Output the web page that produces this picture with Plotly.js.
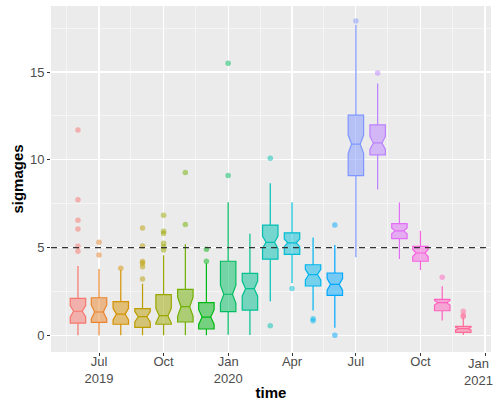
<!DOCTYPE html>
<html>
<head>
<meta charset="utf-8">
<script src="https://cdn.plot.ly/plotly-3.0.1.min.js"></script>
<style>html,body{margin:0;padding:0;background:#fff;}#chart{width:493px;height:406px;}</style>
</head>
<body>
<div id="chart"></div>
<script>
// ---- data ----
const months = ["2019-06-01","2019-07-01","2019-08-01","2019-09-01","2019-10-01","2019-11-01","2019-12-01",
                "2020-01-01","2020-02-01","2020-03-01","2020-04-01","2020-05-01","2020-06-01","2020-07-01",
                "2020-08-01","2020-09-01","2020-10-01","2020-11-01","2020-12-01"];
const q1Vals     = [0.70,0.74,0.63,0.45,0.63,0.76,0.36,1.35,1.44,4.34,4.61,2.81,2.27,9.10,10.28,5.51,4.22,1.40,0.17];
const medianVals = [1.37,1.33,1.21,1.06,1.12,1.63,1.04,2.34,2.66,5.30,5.27,3.46,2.90,10.89,10.96,5.95,4.69,1.86,0.38];
const q3Vals     = [2.11,2.14,1.92,1.52,2.32,2.62,1.86,4.22,3.53,6.28,5.84,4.02,3.55,12.54,11.99,6.36,5.07,2.05,0.51];
const lowerVals  = [0.00,0.00,0.00,0.00,0.00,0.00,0.00,0.03,0.02,1.94,2.96,1.42,0.43,4.45,8.30,4.35,3.72,0.85,0.02];
const upperVals  = [3.95,3.78,3.72,2.94,4.56,5.19,4.10,7.58,5.78,8.67,7.58,5.57,5.15,17.69,14.35,7.56,5.95,2.79,0.98];
const notchVals  = [0.32,0.40,0.33,0.30,0.42,0.55,0.42,0.52,0.43,0.35,0.22,0.30,0.33,0.52,0.37,0.17,0.20,0.13,0.07];
const outlierVals = [
  [11.7,7.73,6.55,6.06,5.08,4.79],
  [5.30,4.58],
  [3.82],
  [6.12,5.09,4.20,4.10,3.90,3.21],
  [6.84,5.93,5.80,5.24,5.05,4.86],
  [9.27,6.31],
  [4.90,4.22],
  [15.5,9.10],
  [],
  [10.09,0.55],
  [2.67],
  [0.95,0.83],
  [6.29,0.01],
  [17.9],
  [14.94],
  [],
  [],
  [3.31],
  [1.37,1.14,1.06]
];
const refLine = 5;
const xTickVals = ["2019-07-01","2019-10-01","2020-01-01","2020-04-01","2020-07-01","2020-10-01","2021-01-01"];
const xTickText = ["Jul<br>2019","Oct","Jan<br>2020","Apr","Jul","Oct","Jan<br>2021"];
const yTickVals = [0,5,10,15];
const lastTick = xTickVals.length - 1;   // drawn as an annotation so it stays inside the page

// ---- ggplot2 hue palette (HCL, l=65, c=100) ----
function hcl2rgb(h, c, l){
  const hr = h*Math.PI/180;
  const U = c*Math.cos(hr), V = c*Math.sin(hr);
  const Xn=95.047, Yn=100, Zn=108.883;
  const den = Xn+15*Yn+3*Zn, un = 4*Xn/den, vn = 9*Yn/den;
  const Y = l>8 ? Yn*Math.pow((l+16)/116,3) : Yn*l/903.3;
  const u = U/(13*l)+un, v = V/(13*l)+vn;
  const X = 9*Y*u/(4*v);
  const Z = Y*(12-3*u-20*v)/(4*v);
  const x=X/100, y=Y/100, z=Z/100;
  let r =  3.240479*x - 1.537150*y - 0.498535*z;
  let g = -0.969256*x + 1.875992*y + 0.041556*z;
  let b =  0.055648*x - 0.204043*y + 1.057311*z;
  const gam = t => { t = t<=0.0031308 ? 12.92*t : 1.055*Math.pow(t,1/2.4)-0.055; return Math.round(255*Math.min(1,Math.max(0,t))); };
  return [gam(r),gam(g),gam(b)];
}
const n = months.length;
const cols = months.map((_,i)=>hcl2rgb(15 + i*360/n, 100, 65));
const rgb = (c,a)=> a===undefined ? `rgb(${c[0]},${c[1]},${c[2]})` : `rgba(${c[0]},${c[1]},${c[2]},${a})`;

const DAY = 86400000;
const traces = [];
months.forEach((m,i)=>{
  traces.push({
    type:'box', x:[m], q1:[q1Vals[i]], median:[medianVals[i]], q3:[q3Vals[i]],
    lowerfence:[lowerVals[i]], upperfence:[upperVals[i]], notchspan:[notchVals[i]],
    notched:true, notchwidth:0.22, whiskerwidth:0, width:22*DAY,
    fillcolor:rgb(cols[i],0.5), line:{color:rgb(cols[i]), width:1.2},
    boxpoints:false, showlegend:false, hoverinfo:'skip'
  });
  if(outlierVals[i].length){
    traces.push({
      type:'scatter', mode:'markers', x:outlierVals[i].map(()=>m), y:outlierVals[i],
      marker:{color:rgb(cols[i],0.5), size:5.5, line:{width:0}},
      showlegend:false, hoverinfo:'skip'
    });
  }
});

const font = "Liberation Sans, Arial, sans-serif";
const layout = {
  width:493, height:406,
  margin:{l:51, r:2, t:6, b:54},
  paper_bgcolor:'#ffffff', plot_bgcolor:'#EBEBEB',
  boxmode:'overlay', showlegend:false,
  font:{family:font, color:'#4D4D4D', size:13},
  xaxis:{
    type:'date', range:['2019-04-23 14:00','2021-01-09 12:00'],
    tickmode:'array', tickvals:xTickVals,
    ticktext:xTickText.map((t,i)=> i===lastTick ? '' : t),
    ticks:'outside', ticklen:3, tickwidth:1, tickcolor:'#333333',
    tickfont:{family:font, size:13, color:'#4D4D4D'},
    ticklabelstandoff:-6,
    showgrid:true, gridcolor:'#ffffff', gridwidth:1.1, zeroline:false, showline:false,
    minor:{tickmode:'linear', tick0:'2019-02-15 12:00', dtick:'M3', showgrid:true, gridcolor:'#ffffff', gridwidth:0.5, ticks:''},
    title:{text:'<b>time</b>', font:{family:font, size:15, color:'#000000'}, standoff:2},
    automargin:false
  },
  yaxis:{
    range:[-0.95, 18.76], tickmode:'array', tickvals:yTickVals,
    ticks:'outside', ticklen:3, tickwidth:1, tickcolor:'#333333',
    tickfont:{family:font, size:13, color:'#4D4D4D'},
    showgrid:true, gridcolor:'#ffffff', gridwidth:1.1, zeroline:false, showline:false,
    minor:{tickmode:'linear', tick0:2.5, dtick:5, showgrid:true, gridcolor:'#ffffff', gridwidth:0.5, ticks:''},
    title:{text:'<b>sigmages</b>', font:{family:font, size:15, color:'#000000'}, standoff:2},
    automargin:false
  },
  annotations:[{
    text:xTickText[lastTick], x:xTickVals[lastTick], xref:'x', y:0, yref:'paper',
    xanchor:'center', yanchor:'top', xshift:-7, yshift:-2, showarrow:false, align:'center',
    font:{family:font, size:13, color:'#4D4D4D'}
  }],
  shapes:[{type:'line', xref:'paper', x0:0, x1:1, yref:'y', y0:refLine, y1:refLine,
           line:{color:'#333333', width:1.2, dash:'6px,5px'}, layer:'above'}]
};
Plotly.newPlot('chart', traces, layout, {displayModeBar:false, staticPlot:true});
</script>
</body>
</html>
